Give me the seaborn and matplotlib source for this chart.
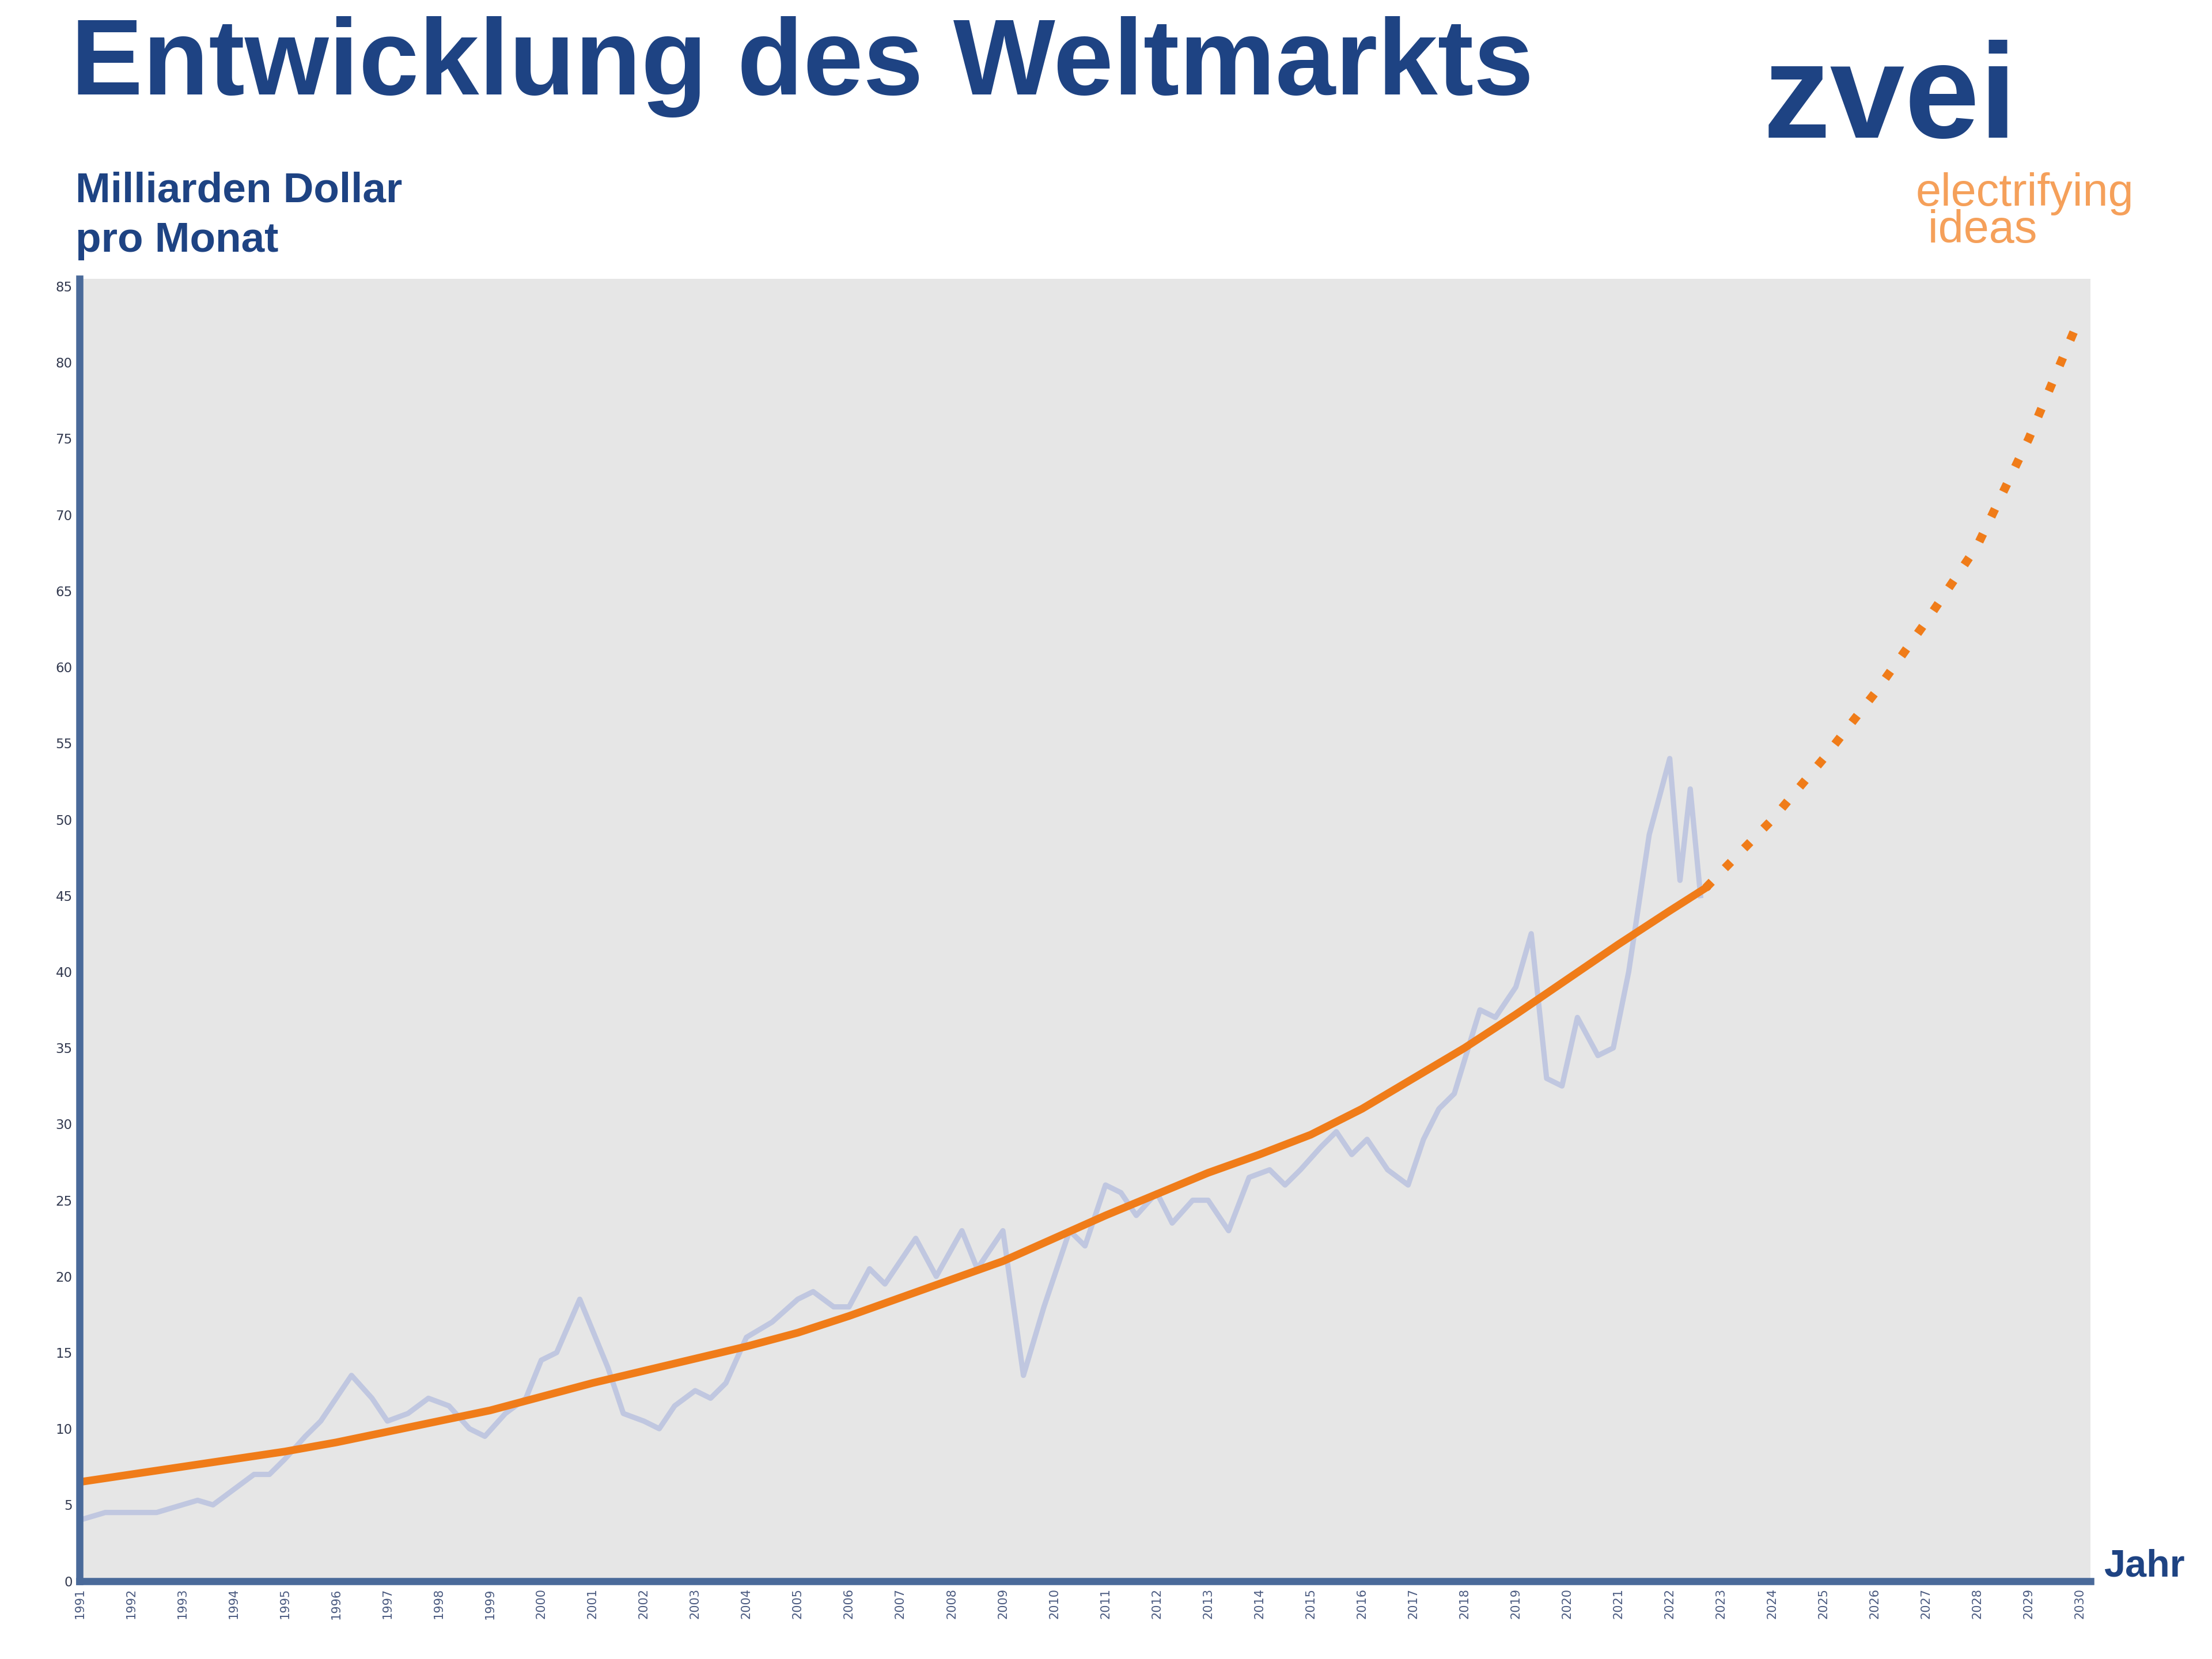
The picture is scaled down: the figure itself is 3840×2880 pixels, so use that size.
import matplotlib
matplotlib.use("Agg")
import matplotlib.pyplot as plt
import seaborn as sns
import pandas as pd

market_years = [1991.0, 1991.5, 1992.0, 1992.5, 1993.0, 1993.3, 1993.6, 1994.0, 1994.4, 1994.7,
                1995.0, 1995.4, 1995.7, 1996.0, 1996.3, 1996.7, 1997.0, 1997.4, 1997.8, 1998.2,
                1998.6, 1998.9, 1999.3, 1999.7, 2000.0, 2000.3, 2000.75, 2001.3, 2001.6, 2002.0,
                2002.3, 2002.6, 2003.0, 2003.3, 2003.6, 2004.0, 2004.5, 2005.0, 2005.3, 2005.7,
                2006.0, 2006.4, 2006.7, 2007.0, 2007.3, 2007.7, 2008.2, 2008.5, 2009.0, 2009.4,
                2009.8, 2010.3, 2010.6, 2011.0, 2011.3, 2011.6, 2012.0, 2012.3, 2012.7, 2013.0,
                2013.4, 2013.8, 2014.2, 2014.5, 2014.8, 2015.2, 2015.5, 2015.8, 2016.1, 2016.5,
                2016.9, 2017.2, 2017.5, 2017.8, 2018.3, 2018.6, 2019.0, 2019.3, 2019.6, 2019.9,
                2020.2, 2020.6, 2020.9, 2021.2, 2021.6, 2022.0, 2022.2, 2022.4, 2022.6]
market_values = [4.0, 4.5, 4.5, 4.5, 5.0, 5.3, 5.0, 6.0, 7.0, 7.0,
                 8.0, 9.5, 10.5, 12.0, 13.5, 12.0, 10.5, 11.0, 12.0, 11.5,
                 10.0, 9.5, 11.0, 12.0, 14.5, 15.0, 18.5, 14.0, 11.0, 10.5,
                 10.0, 11.5, 12.5, 12.0, 13.0, 16.0, 17.0, 18.5, 19.0, 18.0,
                 18.0, 20.5, 19.5, 21.0, 22.5, 20.0, 23.0, 20.5, 23.0, 13.5,
                 18.0, 23.0, 22.0, 26.0, 25.5, 24.0, 25.5, 23.5, 25.0, 25.0,
                 23.0, 26.5, 27.0, 26.0, 27.0, 28.5, 29.5, 28.0, 29.0, 27.0,
                 26.0, 29.0, 31.0, 32.0, 37.5, 37.0, 39.0, 42.5, 33.0, 32.5,
                 37.0, 34.5, 35.0, 40.0, 49.0, 54.0, 46.0, 52.0, 45.0]

trend_years = [1991, 1992, 1993, 1994, 1995, 1996, 1997, 1998, 1999, 2000, 2001, 2002,
               2003, 2004, 2005, 2006, 2007, 2008, 2009, 2010, 2011, 2012, 2013, 2014,
               2015, 2016, 2017, 2018, 2019, 2020, 2021, 2022, 2022.7]
trend_values = [6.5, 7.0, 7.5, 8.0, 8.5, 9.1, 9.8, 10.5, 11.2, 12.1, 13.0, 13.8,
                14.6, 15.4, 16.3, 17.4, 18.6, 19.8, 21.0, 22.5, 24.0, 25.4, 26.8, 28.0,
                29.3, 31.0, 33.0, 35.0, 37.2, 39.5, 41.8, 44.0, 45.5]
forecast_years = [2022.7, 2024, 2025, 2026, 2027, 2028, 2029, 2030]
forecast_values = [45.5, 50.0, 54.0, 58.3, 63.0, 68.0, 75.0, 83.0]

year_ticks = list(range(1991, 2031))
y_ticks = list(range(0, 90, 5))

blue = "#1e4383"
orange = "#f07c19"

df_m = pd.DataFrame({"x": market_years, "y": market_values})
df_t = pd.DataFrame({"x": trend_years, "y": trend_values})
df_f = pd.DataFrame({"x": forecast_years, "y": forecast_values})

fig = plt.figure(figsize=(12.8, 9.6), dpi=300)
ax = fig.add_axes([0.036, 0.047, 0.909, 0.785])
ax.set_facecolor("#e6e6e6")
sns.lineplot(data=df_m, x="x", y="y", ax=ax, color="#c0c7e0", lw=2.2)
sns.lineplot(data=df_t, x="x", y="y", ax=ax, color=orange, lw=3.2)
sns.lineplot(data=df_f, x="x", y="y", ax=ax, color=orange, lw=3.6, linestyle=(0, (1, 2.2)))

ax.set_xlim(1991, 2030.2)
ax.set_ylim(0, 85.5)
ax.set_xticks(year_ticks)
ax.set_xticklabels([str(y) for y in year_ticks], rotation=90, fontsize=5, color="#4a5a80")
ax.set_yticks(y_ticks)
ax.set_yticklabels([str(v) for v in y_ticks], fontsize=5.5, color="#333a50")
ax.tick_params(length=0, pad=3)
ax.set_xlabel("")
ax.set_ylabel("")
for s in ["top", "right"]:
    ax.spines[s].set_visible(False)
for s in ["left", "bottom"]:
    ax.spines[s].set_color("#4a6a9a")
    ax.spines[s].set_linewidth(3)

fig.text(0.032, 0.943, "Entwicklung des Weltmarkts", fontsize=45, fontweight="bold",
         color=blue, family="Liberation Sans", va="baseline")
fig.text(0.797, 0.917, "zvei", fontsize=56, fontweight="bold", color=blue,
         family="Liberation Sans", va="baseline")
fig.text(0.866, 0.848, "electrifying\n ideas", fontsize=19, color="#f5a05a",
         family="Liberation Sans", va="bottom", linespacing=0.8)
fig.text(0.034, 0.843, "Milliarden Dollar\npro Monat", fontsize=17.5, fontweight="bold",
         color=blue, family="Liberation Sans", va="bottom", linespacing=1.35)
fig.text(0.951, 0.045, "Jahr", fontsize=16, fontweight="bold", color=blue,
         family="Liberation Sans", va="bottom")

fig.savefig("out.png", dpi=300, facecolor="white")
